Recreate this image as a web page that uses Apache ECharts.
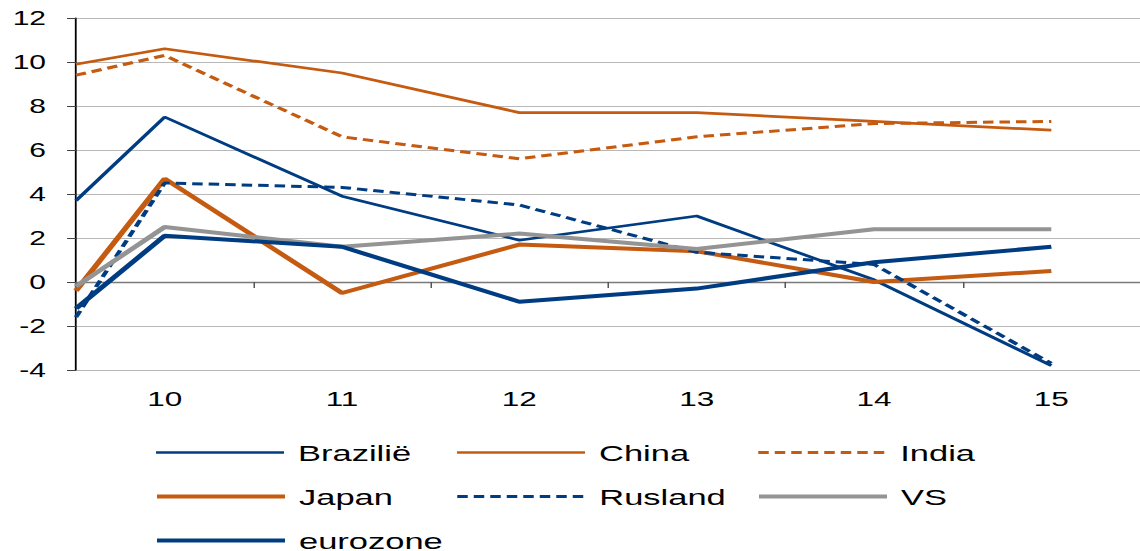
<!DOCTYPE html>
<html>
<head>
<meta charset="utf-8">
<script src="https://cdn.jsdelivr.net/npm/echarts@6/dist/echarts.min.js"></script>
<style>
  html, body { margin: 0; padding: 0; background: #fff; overflow: hidden; }
  #wrap { width: 1140px; height: 551px; overflow: hidden; }
  /* the chart is laid out narrow and widened horizontally */
  #chart { width: 760px; height: 551px; transform: scale(1.5, 1); transform-origin: 0 0; }
</style>
</head>
<body>
<div id="wrap"><div id="chart"></div></div>
<script>
// x positions: the first sample sits at the left edge (9.5), then 2010..2015
const xPos = [9.5, 10, 11, 12, 13, 14, 15];
const yearLabels = ['10', '11', '12', '13', '14', '15'];

const brazilie = [3.7, 7.5, 3.9, 1.9, 3.0, 0.1, -3.8];
const china    = [9.9, 10.6, 9.5, 7.7, 7.7, 7.3, 6.9];
const india    = [9.4, 10.3, 6.6, 5.6, 6.6, 7.2, 7.3];
const japan    = [-0.4, 4.7, -0.5, 1.7, 1.4, 0.0, 0.5];
const rusland  = [-1.6, 4.5, 4.3, 3.5, 1.35, 0.8, -3.7];
const vs       = [-0.2, 2.5, 1.6, 2.2, 1.5, 2.4, 2.4];
const eurozone = [-1.2, 2.1, 1.6, -0.9, -0.3, 0.9, 1.6];

const ORANGE = '#C55A11';
const BLUE = '#003C82';
const GREY = '#949494';

const SX = 1.5; // horizontal widening factor
const px = v => v / SX;

function pts(vals) { return xPos.map((x, i) => [x, vals[i]]); }

const seriesDefs = [
  { name: 'Brazilië', data: brazilie, color: BLUE,   width: 2.7, type: 'solid' },
  { name: 'China',    data: china,    color: ORANGE, width: 2.7, type: 'solid' },
  { name: 'India',    data: india,    color: ORANGE, width: 3,   type: [7, 4] },
  { name: 'Japan',    data: japan,    color: ORANGE, width: 4,   type: 'solid' },
  { name: 'Rusland',  data: rusland,  color: BLUE,   width: 3,   type: [7, 4] },
  { name: 'VS',       data: vs,       color: GREY,   width: 4,   type: 'solid' },
  { name: 'eurozone', data: eurozone, color: BLUE,   width: 4,   type: 'solid' }
];

// legend grid: 3 columns, rows 44px apart
const legendCols = [154, 455, 756];
const legendRows = [453, 497, 541];

const legends = seriesDefs.map((s, i) => ({
  data: [s.name],
  left: px(legendCols[i % 3]),
  top: legendRows[Math.floor(i / 3)] - 12,
  itemWidth: px(128),
  itemHeight: 20,
  itemGap: 0,
  padding: 0,
  selectedMode: false,
  itemStyle: { opacity: 0, borderWidth: 0 },
  lineStyle: { width: s.width, type: s.type, color: s.color, cap: 'butt' },
  textStyle: {
    fontFamily: 'Liberation Sans, Arial, sans-serif',
    fontSize: 23,
    color: '#000',
    lineHeight: 20,
    padding: [0, 0, 0, px(14) - 5]
  }
}));

const chart = echarts.init(document.getElementById('chart'), null, { renderer: 'svg' });

chart.setOption({
  animation: false,
  backgroundColor: '#fff',
  grid: { left: px(76), top: 18, width: px(1070), height: 352, containLabel: false },
  legend: legends,
  xAxis: [
    {
      type: 'value',
      min: 9.5, max: 15.5, interval: 1,
      axisLine: { show: true, onZero: true, lineStyle: { color: '#7a7a7a', width: 1.4 } },
      axisTick: { show: true, length: 6, lineStyle: { color: '#555', width: 1 } },
      axisLabel: { show: false },
      splitLine: { show: false }
    },
    {
      type: 'category',
      data: yearLabels,
      boundaryGap: true,
      position: 'bottom',
      axisLine: { show: false, onZero: false },
      axisTick: { show: false },
      splitLine: { show: false },
      axisLabel: {
        margin: 18,
        fontFamily: 'Liberation Sans, Arial, sans-serif',
        fontSize: 21,
        color: '#000'
      }
    }
  ],
  yAxis: {
    type: 'value',
    min: -4, max: 12, interval: 2,
    axisLine: { show: true, onZero: false, lineStyle: { color: '#000', width: 1.2 } },
    axisTick: { show: true, length: px(9), lineStyle: { color: '#444', width: 1 } },
    splitLine: { show: true, lineStyle: { color: '#b8b8b8', width: 1.2 } },
    axisLabel: {
      margin: px(30),
      fontFamily: 'Liberation Sans, Arial, sans-serif',
      fontSize: 20,
      color: '#000'
    }
  },
  series: seriesDefs.map(s => ({
    name: s.name,
    type: 'line',
    xAxisIndex: 0,
    data: pts(s.data),
    symbol: 'none',
    showSymbol: false,
    color: s.color,
    lineStyle: { color: s.color, width: s.width, type: s.type, cap: 'butt' },
    z: 3
  }))
});
</script>
</body>
</html>
